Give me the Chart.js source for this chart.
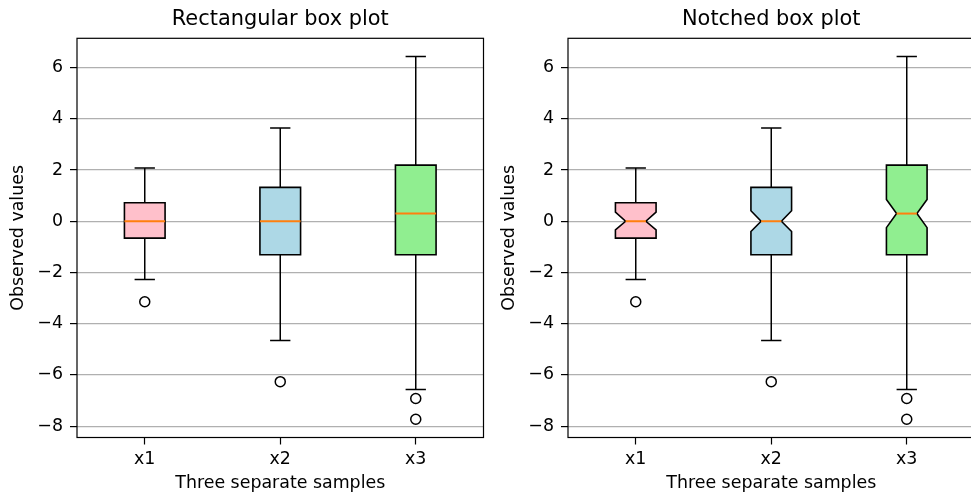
<!DOCTYPE html>
<html>
<head>
<meta charset="utf-8">
<script src="https://cdn.jsdelivr.net/npm/chart.js@4.4.1/dist/chart.umd.min.js"></script>
<style>
  html, body { margin: 0; padding: 0; background: #fff; overflow: hidden; width: 971px; height: 495px; }
  canvas { position: absolute; top: 0; }
  #left { left: 0px; }
  #right { left: 491px; }
</style>
</head>
<body>
<canvas id="left" width="490" height="495"></canvas>
<canvas id="right" width="490" height="495"></canvas>
<script>
// data
var categories = ['x1', 'x2', 'x3'];
var boxColors = ['pink', 'lightblue', 'lightgreen'];
var whiskerLow = [-2.27, -4.65, -6.57];
var q1 = [-0.66, -1.31, -1.31];
var medians = [0.0, 0.0, 0.30];
var q3 = [0.72, 1.32, 2.19];
var whiskerHigh = [2.08, 3.64, 6.43];
var notchLow = [-0.34, -0.40, -0.25];
var notchHigh = [0.36, 0.41, 0.85];
var outliers = [[-3.14], [-6.26], [-6.92, -7.73]];
var yTicks = [-8, -6, -4, -2, 0, 2, 4, 6];

var boxWidth = 0.3;
var capWidth = 0.15;

Chart.defaults.font.family = "'DejaVu Sans', sans-serif";
Chart.defaults.color = '#000';

var boxPlugin = {
	id: 'boxes',
	beforeDatasetsDraw: function(chart, args, opts) {
		var ctx = chart.ctx;
		var x = chart.scales.x, y = chart.scales.y;
		var area = chart.chartArea;

		ctx.save();
		// frame round the axes
		ctx.strokeStyle = '#000';
		ctx.lineWidth = 1.2;
		ctx.strokeRect(area.left, area.top, area.right - area.left, area.bottom - area.top);

		// title, centred over the axes rather than the canvas
		ctx.fillStyle = '#000';
		ctx.font = "20.9px 'DejaVu Sans', sans-serif";
		ctx.textAlign = 'center';
		ctx.textBaseline = 'middle';
		ctx.fillText(opts.title, (area.left + area.right) / 2, 19.5);

		ctx.lineWidth = 1.5;
		for (var i = 0; i < categories.length; i++) {
			var pos = i + 1;
			var xc = x.getPixelForValue(pos);
			var xl = x.getPixelForValue(pos - boxWidth / 2);
			var xr = x.getPixelForValue(pos + boxWidth / 2);
			var nl = x.getPixelForValue(pos - boxWidth / 4);
			var nr = x.getPixelForValue(pos + boxWidth / 4);
			var cl = x.getPixelForValue(pos - capWidth / 2);
			var cr = x.getPixelForValue(pos + capWidth / 2);

			// whiskers and caps
			ctx.strokeStyle = '#000';
			ctx.lineWidth = 1.5;
			ctx.beginPath();
			ctx.moveTo(xc, y.getPixelForValue(q1[i]));
			ctx.lineTo(xc, y.getPixelForValue(whiskerLow[i]));
			ctx.moveTo(xc, y.getPixelForValue(q3[i]));
			ctx.lineTo(xc, y.getPixelForValue(whiskerHigh[i]));
			ctx.moveTo(cl, y.getPixelForValue(whiskerLow[i]));
			ctx.lineTo(cr, y.getPixelForValue(whiskerLow[i]));
			ctx.moveTo(cl, y.getPixelForValue(whiskerHigh[i]));
			ctx.lineTo(cr, y.getPixelForValue(whiskerHigh[i]));
			ctx.stroke();

			// box
			var yq1 = y.getPixelForValue(q1[i]);
			var yq3 = y.getPixelForValue(q3[i]);
			var ym = y.getPixelForValue(medians[i]);
			ctx.beginPath();
			if (opts.notched) {
				var ylo = y.getPixelForValue(notchLow[i]);
				var yhi = y.getPixelForValue(notchHigh[i]);
				ctx.moveTo(xl, yq1);
				ctx.lineTo(xr, yq1);
				ctx.lineTo(xr, ylo);
				ctx.lineTo(nr, ym);
				ctx.lineTo(xr, yhi);
				ctx.lineTo(xr, yq3);
				ctx.lineTo(xl, yq3);
				ctx.lineTo(xl, yhi);
				ctx.lineTo(nl, ym);
				ctx.lineTo(xl, ylo);
				ctx.closePath();
			} else {
				ctx.rect(xl, yq3, xr - xl, yq1 - yq3);
			}
			ctx.fillStyle = boxColors[i];
			ctx.fill();
			ctx.lineJoin = 'miter';
			ctx.lineWidth = 1.6;
			ctx.stroke();

			// median
			ctx.strokeStyle = '#ff7f0e';
			ctx.lineWidth = 2;
			ctx.beginPath();
			ctx.moveTo(opts.notched ? nl : xl, ym);
			ctx.lineTo(opts.notched ? nr : xr, ym);
			ctx.stroke();
		}
		ctx.restore();
	}
};

function fmtTick(v) {
	return v < 0 ? '\u2212' + Math.abs(v) : String(v);
}

function makeChart(id, title, notched) {
	var points = [];
	outliers.forEach(function(list, i) {
		list.forEach(function(v) { points.push({x: i + 1, y: v}); });
	});

	return new Chart(document.getElementById(id), {
		type: 'scatter',
		data: {
			datasets: [{
				label: 'outliers',
				data: points,
				pointStyle: 'circle',
				pointRadius: 5,
				pointBorderWidth: 1.5,
				pointBorderColor: '#000',
				pointBackgroundColor: '#fff',
				clip: false
			}]
		},
		options: {
			responsive: false,
			animation: false,
			layout: { padding: { left: 0, right: 3.3, top: 38.3, bottom: 0 } },
			plugins: {
				legend: { display: false },
				tooltip: { enabled: false },
				title: { display: false },
				boxes: { notched: notched, title: title }
			},
			scales: {
				x: {
					type: 'linear',
					min: 0.5,
					max: 3.5,
					afterBuildTicks: function(s) {
						s.ticks = categories.map(function(c, i) { return {value: i + 1}; });
					},
					afterFit: function(s) { s.height = 57.5; },
					ticks: {
						font: { size: 17.4 },
						color: '#000',
						padding: 5,
						maxRotation: 0,
						callback: function(v) { return categories[v - 1]; }
					},
					grid: { drawOnChartArea: false, tickLength: 7, tickColor: '#000', tickWidth: 1.2 },
					border: { display: false },
					title: {
						display: true,
						text: 'Three separate samples',
						color: '#000',
						font: { size: 17.4 },
						padding: { top: 0, bottom: 1.5 }
					}
				},
				y: {
					min: -8.44,
					max: 7.14,
					afterBuildTicks: function(s) {
						s.ticks = yTicks.map(function(v) { return {value: v}; });
					},
					afterFit: function(s) { s.width = 77; },
					ticks: {
						font: { size: 17.4 },
						color: '#000',
						padding: 7,
						callback: fmtTick
					},
					grid: { color: '#b0b0b0', lineWidth: 1.2, tickLength: 7, tickColor: '#000', tickWidth: 1.2 },
					border: { display: false },
					title: {
						display: true,
						text: 'Observed values',
						color: '#000',
						font: { size: 17.4 },
						padding: { top: 8, bottom: 0 }
					}
				}
			}
		},
		plugins: [boxPlugin]
	});
}

makeChart('left', 'Rectangular box plot', false);
makeChart('right', 'Notched box plot', true);
</script>
</body>
</html>
